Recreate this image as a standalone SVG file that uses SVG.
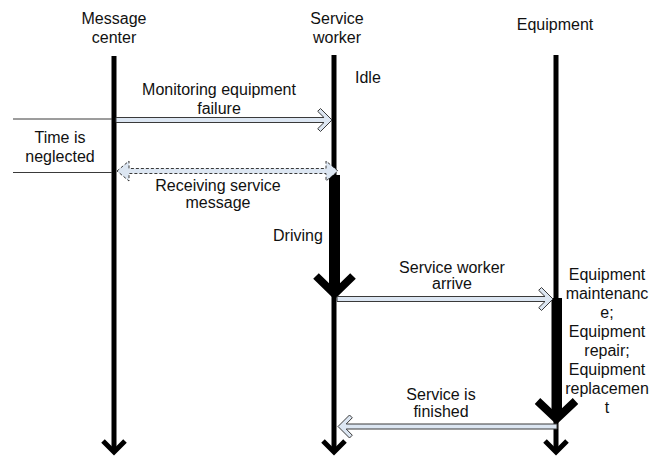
<svg xmlns="http://www.w3.org/2000/svg" width="649" height="457" viewBox="0 0 649 457">
  <style>
    text { font-family: "Liberation Sans", Arial, sans-serif; font-size: 16px; fill: #111; }
    .mid { text-anchor: middle; }
    .life { stroke: #000; stroke-width: 5; fill: none; }
    .head { stroke: #000; stroke-width: 5; fill: none; stroke-linejoin: miter; stroke-miterlimit: 10; }
    .busy { fill: #000; }
    .busyhead { stroke: #000; stroke-width: 8; fill: none; stroke-linejoin: miter; stroke-miterlimit: 10; }
    .msg { fill: #dce6f2; stroke: #3a3a3a; stroke-width: 1; stroke-linejoin: miter; }
    .dash { stroke-dasharray: 3 2; }
    .rule { stroke: #3a3a3a; stroke-width: 1; fill: none; }
  </style>

  <!-- Lifeline: message center -->
  <g id="message-center">
    <text class="mid" x="114" y="24">Message</text>
    <text class="mid" x="114" y="43">center</text>
    <line class="life" x1="114" y1="56" x2="114" y2="451"/>
    <polyline class="head" points="103,441 114,452 125,441"/>
  </g>

  <!-- Lifeline: service worker -->
  <g id="service-worker">
    <text class="mid" x="337" y="24">Service</text>
    <text class="mid" x="337" y="43">worker</text>
    <line class="life" x1="334" y1="55" x2="334" y2="451"/>
    <polyline class="head" points="323,441 334,452 345,441"/>
    <text x="355" y="83">Idle</text>
    <!-- driving period -->
    <rect class="busy" x="329" y="175" width="11" height="118"/>
    <polyline class="busyhead" points="316,276 334.5,294 353,276"/>
    <text x="273" y="241">Driving</text>
  </g>

  <!-- Lifeline: equipment -->
  <g id="equipment">
    <text class="mid" x="555" y="30">Equipment</text>
    <line class="life" x1="556" y1="55" x2="556" y2="451"/>
    <polyline class="head" points="545,441 556,452 567,441"/>
    <!-- maintenance period -->
    <rect class="busy" x="551.5" y="298" width="10.5" height="118"/>
    <polyline class="busyhead" points="537.5,401 556.5,419 575.5,401"/>
    <text class="mid" x="607" y="280">Equipment</text>
    <text class="mid" x="607" y="299">maintenanc</text>
    <text class="mid" x="607" y="318">e;</text>
    <text class="mid" x="607" y="337">Equipment</text>
    <text class="mid" x="607" y="356">repair;</text>
    <text class="mid" x="607" y="375">Equipment</text>
    <text class="mid" x="607" y="394">replacemen</text>
    <text class="mid" x="607" y="413">t</text>
  </g>

  <!-- Time span marker -->
  <g id="time-neglected">
    <line class="rule" x1="13" y1="119" x2="112" y2="119"/>
    <line class="rule" x1="13" y1="172.5" x2="112" y2="172.5"/>
    <text class="mid" x="60" y="143">Time is</text>
    <text class="mid" x="60" y="162">neglected</text>
  </g>

  <!-- Messages -->
  <g id="connectors">
    <!-- monitoring equipment failure -->
    <path class="msg" d="M116,117.5 L324,117.5 L317.7,111.3 L320.5,108.5 L332,120 L320.5,131.5 L317.7,128.7 L324,122.5 L116,122.5 Z"/>
    <!-- receiving service message (two-way) -->
    <path class="msg dash" d="M117,171 L129,161 L129,168.5 L326,168.5 L326,161 L338,171 L326,181 L326,173.5 L129,173.5 L129,181 Z"/>
    <!-- service worker arrive -->
    <path class="msg" d="M337,296.5 L545,296.5 L538.7,290.3 L541.5,287.5 L553,299 L541.5,310.5 L538.7,307.7 L545,301.5 L337,301.5 Z"/>
    <!-- service is finished -->
    <path class="msg" d="M557,424 L346.2,424 L352.3,417.8 L349.5,415 L338,426.5 L349.5,438 L352.3,435.2 L346.2,429 L557,429 Z"/>
  </g>

  <!-- Message labels -->
  <g id="labels">
    <text class="mid" x="219" y="95">Monitoring equipment</text>
    <text class="mid" x="219" y="114">failure</text>
    <text class="mid" x="218" y="191">Receiving service</text>
    <text class="mid" x="218" y="208">message</text>
    <text class="mid" x="452" y="273">Service worker</text>
    <text class="mid" x="452" y="289">arrive</text>
    <text class="mid" x="441" y="400">Service is</text>
    <text class="mid" x="441" y="417">finished</text>
  </g>
</svg>
